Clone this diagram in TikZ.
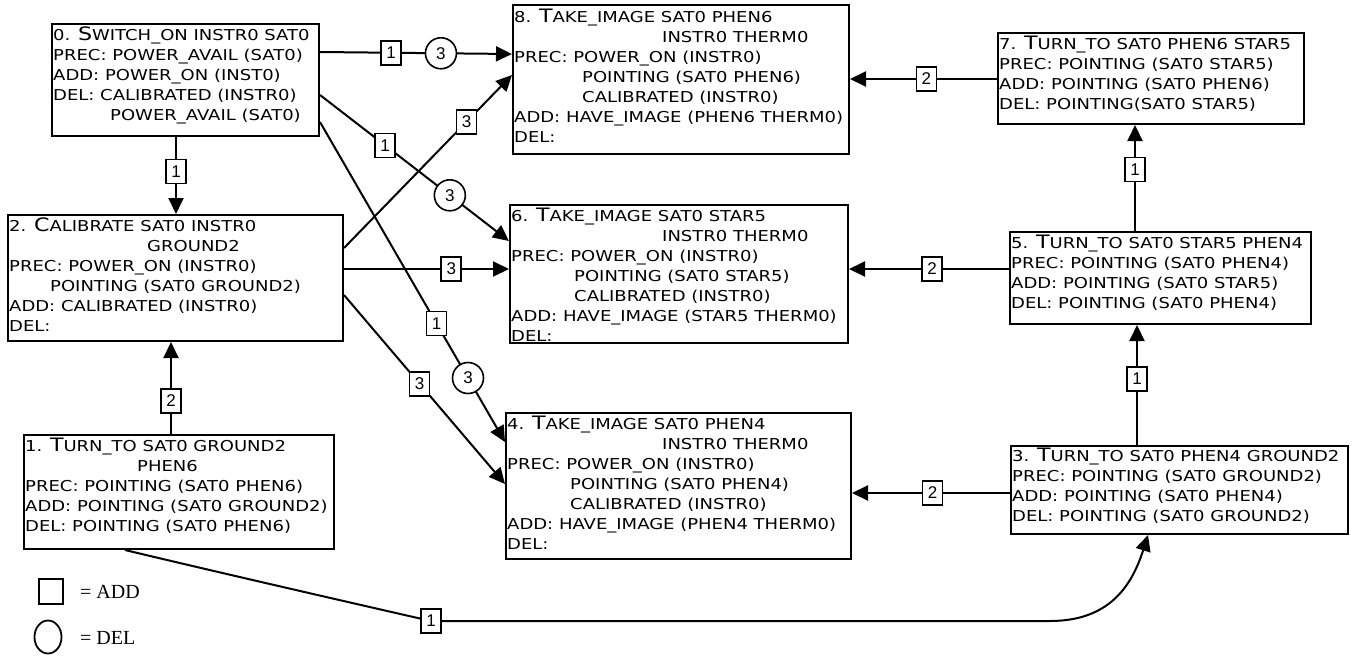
\documentclass[tikz,border=0pt]{standalone}
\usepackage{fontspec}
\newfontfamily\nodefont[FakeStretch=1.2]{DejaVu Sans}
\newfontfamily\numfont{Liberation Sans}
\newfontfamily\legfont{Liberation Serif}
\usetikzlibrary{arrows.meta,shapes.geometric}
\newcommand{\ini}[1]{\smash{\fontsize{18.5}{18.5}\selectfont #1}}
\tikzset{
 box/.style={draw, fill=white, line width=2pt, anchor=north west, inner sep=0pt},
 txt/.style={anchor=north west, inner sep=0pt, align=left, font=\nodefont\fontsize{15}{20}\selectfont},
 conn/.style={line width=2pt},
 arr/.style={conn, -{Triangle[length=16pt,width=15pt]}},
 sq/.style={draw, fill=white, line width=1.6pt, minimum width=20pt, minimum height=24pt, inner sep=0pt, font=\numfont\fontsize{17}{17}\selectfont},
 ci/.style={draw, fill=white, circle, line width=1.6pt, minimum size=31pt, inner sep=0pt, font=\numfont\fontsize{17}{17}\selectfont},
 leg/.style={anchor=west, inner sep=0pt, font=\legfont\fontsize{20}{20}\selectfont},
}
\begin{document}
\begin{tikzpicture}[x=1pt,y=-1pt]
\useasboundingbox[fill=white] (0,0) rectangle (1357,656);
% boxes
\node[box, minimum width=267pt, minimum height=112pt] (n0) at (51,23) {};
\node[box, minimum width=336pt, minimum height=149pt] (n8) at (512,4) {};
\node[box, minimum width=306pt, minimum height=91pt] (n7) at (997,32) {};
\node[box, minimum width=335pt, minimum height=126pt] (n2) at (7,214) {};
\node[box, minimum width=338pt, minimum height=138pt] (n6) at (509,204) {};
\node[box, minimum width=301pt, minimum height=92pt] (n5) at (1009,231) {};
\node[box, minimum width=310pt, minimum height=114pt] (n1) at (23,434) {};
\node[box, minimum width=345pt, minimum height=146pt] (n4) at (505,412) {};
\node[box, minimum width=337pt, minimum height=88pt] (n3) at (1010,445) {};
% texts
\node[txt] (t0) at ([shift={(2,6)}]n0.north west) {0. \ini{S}WITCH\_ON INSTR0 SAT0\\PREC: POWER\_AVAIL (SAT0)\\ADD: POWER\_ON (INST0)\\DEL: CALIBRATED (INSTR0)\\\hspace*{57pt}POWER\_AVAIL (SAT0)};
\node[txt] (t8) at ([shift={(2,7)}]n8.north west) {8. \ini{T}AKE\_IMAGE SAT0 PHEN6\\\hspace*{148pt}INSTR0 THERM0\\PREC: POWER\_ON (INSTR0)\\\hspace*{68pt}POINTING (SAT0 PHEN6)\\\hspace*{68pt}CALIBRATED (INSTR0)\\ADD: HAVE\_IMAGE (PHEN6 THERM0)\\DEL:};
\node[txt] (t7) at ([shift={(2,6)}]n7.north west) {7. \ini{T}URN\_TO SAT0 PHEN6 STAR5\\PREC: POINTING (SAT0 STAR5)\\ADD: POINTING (SAT0 PHEN6)\\DEL: POINTING(SAT0 STAR5)};
\node[txt] (t2) at ([shift={(2,6)}]n2.north west) {2. \ini{C}ALIBRATE SAT0 INSTR0\\\hspace*{138pt}GROUND2\\PREC: POWER\_ON (INSTR0)\\\hspace*{41pt}POINTING (SAT0 GROUND2)\\ADD: CALIBRATED (INSTR0)\\DEL:};
\node[txt] (t6) at ([shift={(2,6)}]n6.north west) {6. \ini{T}AKE\_IMAGE SAT0 STAR5\\\hspace*{151pt}INSTR0 THERM0\\PREC: POWER\_ON (INSTR0)\\\hspace*{63pt}POINTING (SAT0 STAR5)\\\hspace*{63pt}CALIBRATED (INSTR0)\\ADD: HAVE\_IMAGE (STAR5 THERM0)\\DEL:};
\node[txt] (t5) at ([shift={(2,6)}]n5.north west) {5. \ini{T}URN\_TO SAT0 STAR5 PHEN4\\PREC: POINTING (SAT0 PHEN4)\\ADD: POINTING (SAT0 STAR5)\\DEL: POINTING (SAT0 PHEN4)};
\node[txt] (t1) at ([shift={(2,6)}]n1.north west) {1. \ini{T}URN\_TO SAT0 GROUND2\\\hspace*{112pt}PHEN6\\PREC: POINTING (SAT0 PHEN6)\\ADD: POINTING (SAT0 GROUND2)\\DEL: POINTING (SAT0 PHEN6)};
\node[txt] (t4) at ([shift={(2,6)}]n4.north west) {4. \ini{T}AKE\_IMAGE SAT0 PHEN4\\\hspace*{155pt}INSTR0 THERM0\\PREC: POWER\_ON (INSTR0)\\\hspace*{63pt}POINTING (SAT0 PHEN4)\\\hspace*{63pt}CALIBRATED (INSTR0)\\ADD: HAVE\_IMAGE (PHEN4 THERM0)\\DEL:};
\node[txt] (t3) at ([shift={(2,5)}]n3.north west) {3. \ini{T}URN\_TO SAT0 PHEN4 GROUND2\\PREC: POINTING (SAT0 GROUND2)\\ADD: POINTING (SAT0 PHEN4)\\DEL: POINTING (SAT0 GROUND2)};
% connectors
\draw[arr] ([shift={(0,29)}]n0.north east) -- node[sq,pos=0.37]{1} node[ci,pos=0.63]{3} ([shift={(0,50)}]n8.north west);
\draw[arr] ([shift={(0,72)}]n0.north east) -- node[sq,pos=0.345]{1} node[ci,pos=0.687]{3} ([shift={(0,37)}]n6.north west);
\draw[arr] ([shift={(0,99)}]n0.north east) -- node[sq,pos=0.63]{1} node[ci,pos=0.80]{3} ([shift={(0,30)}]n4.north west);
\draw[arr] ([shift={(125,0)}]n0.south west) -- node[sq,pos=0.45]{1} ([shift={(169,0)}]n2.north west);
\draw[arr] ([shift={(0,34)}]n2.north east) -- node[sq,pos=0.73]{3} ([shift={(0,71)}]n8.north west);
\draw[arr] ([shift={(0,55)}]n2.north east) -- node[sq,pos=0.65]{3} ([shift={(0,65)}]n6.north west);
\draw[arr] ([shift={(0,81)}]n2.north east) -- node[sq,pos=0.47]{3} ([shift={(0,72)}]n4.north west);
\draw[arr] ([shift={(148,0)}]n1.north west) -- node[sq,pos=0.36]{2} ([shift={(164,0)}]n2.south west);
\draw[arr] ([shift={(127,0)}]n3.north west) -- node[sq,pos=0.55]{1} ([shift={(128,0)}]n5.south west);
\draw[arr] ([shift={(126,0)}]n5.north west) -- node[sq,pos=0.58]{1} ([shift={(138,0)}]n7.south west);
\draw[arr] ([shift={(0,47)}]n7.north west) -- node[sq,pos=0.48]{2} ([shift={(0,75)}]n8.north east);
\draw[arr] ([shift={(0,38)}]n5.north west) -- node[sq,pos=0.48]{2} ([shift={(0,65)}]n6.north east);
\draw[arr] ([shift={(0,48)}]n3.north west) -- node[sq,pos=0.49]{2} ([shift={(0,81)}]n4.north east);
\coordinate (c1) at (431,621);
\coordinate (c2) at (1050,621);
\draw[arr] ([shift={(102,0)}]n1.south west) .. controls (200,568) and (330,598) .. (c1) -- (c2) .. controls (1110,621) and (1132,585) .. ([shift={(138,0)}]n3.south west);
\node[sq] (l1) at (c1) {1};
% legend
\node[draw, line width=1.8pt, minimum width=24pt, minimum height=25pt, anchor=north west, inner sep=0pt] (lsq) at (38,578) {};
\node[leg] (ladd) at (80,592) {= ADD};
\node[draw, ellipse, line width=1.8pt, minimum width=27pt, minimum height=33pt, inner sep=0pt] (lci) at (48,637) {};
\node[leg] (ldel) at (80,638) {= DEL};
\end{tikzpicture}
\end{document}
